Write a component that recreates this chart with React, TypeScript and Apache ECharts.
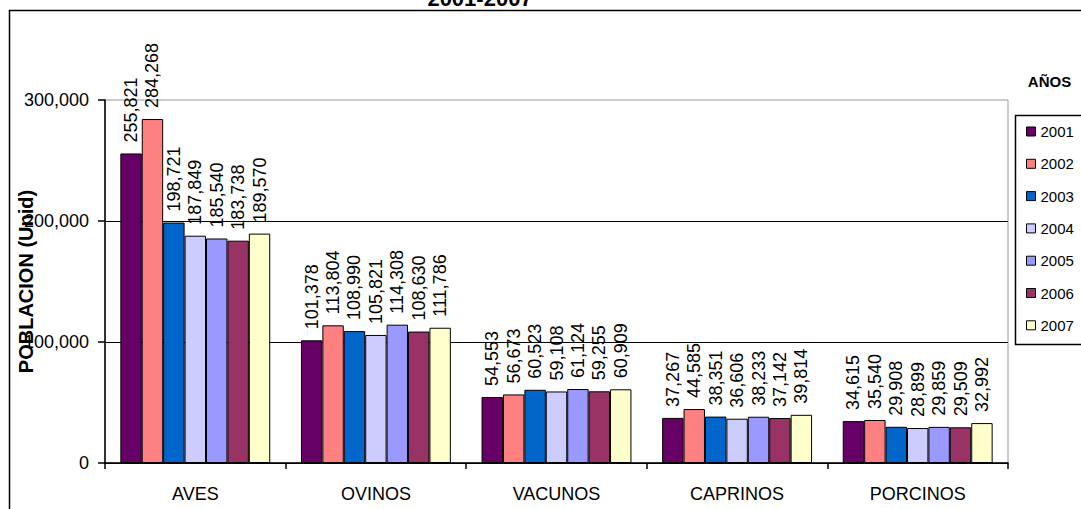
import React, { useEffect, useRef } from "react";
import * as echarts from "echarts";

const categories = ["AVES", "OVINOS", "VACUNOS", "CAPRINOS", "PORCINOS"];
const years = ["2001", "2002", "2003", "2004", "2005", "2006", "2007"];
const colors = ["#660066", "#FF8080", "#0066CC", "#CCCCFF", "#9999FF", "#993366", "#FFFFCC"];

const v2001 = [255821, 101378, 54553, 37267, 34615];
const v2002 = [284268, 113804, 56673, 44585, 35540];
const v2003 = [198721, 108990, 60523, 38351, 29908];
const v2004 = [187849, 105821, 59108, 36606, 28899];
const v2005 = [185540, 114308, 61124, 38233, 29859];
const v2006 = [183738, 108630, 59255, 37142, 29509];
const v2007 = [189570, 111786, 60909, 39814, 32992];
const seriesValues = [v2001, v2002, v2003, v2004, v2005, v2006, v2007];

const yMin = 0;
const yMax = 300000;
const yInterval = 100000;

const FONT = "Liberation Sans, Arial, sans-serif";
const fmt = (n: number) => n.toLocaleString("en-US");

export default function App() {
  const ref = useRef<HTMLDivElement>(null);
  useEffect(() => {
    if (!ref.current) return;
    const chart = echarts.init(ref.current, undefined, { renderer: "svg" });
    chart.setOption({
      animation: false,
      backgroundColor: "#fff",
      color: colors,
      textStyle: { fontFamily: FONT },
      grid: {
        left: 105,
        right: 73,
        top: 100,
        bottom: 46,
        containLabel: false,
        outerBoundsMode: "none",
        show: true,
        borderColor: "#999",
        borderWidth: 1,
        backgroundColor: "transparent",
      },
      legend: {
        orient: "vertical",
        left: 1026,
        top: 124,
        padding: 0,
        itemWidth: 9,
        itemHeight: 9,
        itemGap: 17.3,
        icon: "rect",
        data: years,
        itemStyle: { borderColor: "#000", borderWidth: 1 },
        textStyle: { fontSize: 15, color: "#000", fontFamily: FONT, lineHeight: 15, padding: [0, 0, 0, 0] },
      },
      xAxis: {
        type: "category",
        data: categories,
        boundaryGap: true,
        axisLine: { show: true, lineStyle: { color: "#000", width: 1.5 } },
        axisTick: { show: true, length: 6, lineStyle: { color: "#000", width: 1.5 } },
        axisLabel: { fontSize: 18, color: "#000", margin: 22, fontFamily: FONT },
      },
      yAxis: {
        type: "value",
        min: yMin,
        max: yMax,
        interval: yInterval,
        name: "POBLACION (Unid)",
        nameLocation: "middle",
        nameGap: 69,
        nameMoveOverlap: false,
        nameTextStyle: { fontSize: 20, fontWeight: "bold", color: "#000", fontFamily: FONT },
        axisLine: { show: true, lineStyle: { color: "#000", width: 1.5 } },
        axisTick: { show: true, length: 7, lineStyle: { color: "#000", width: 1.5 } },
        axisLabel: { fontSize: 18, color: "#000", margin: 16, fontFamily: FONT, formatter: (v: number) => fmt(v) },
        splitLine: { show: true, showMaxLine: false, lineStyle: { color: "#000", width: 1.2 } },
      },
      graphic: [
        {
          type: "rect",
          shape: { x: 9.5, y: 10.5, width: 1200, height: 600 },
          style: { fill: "none", stroke: "#000", lineWidth: 1.5 },
          z: 100,
          silent: true,
        },
        {
          type: "rect",
          shape: { x: 1015.5, y: 115.5, width: 200, height: 229 },
          style: { fill: "none", stroke: "#000", lineWidth: 1.5 },
          z: 100,
          silent: true,
        },
        {
          type: "text",
          x: 480,
          y: -2,
          style: {
            text: "2001-2007",
            fontSize: 22,
            fontWeight: "bold",
            fontFamily: FONT,
            fill: "#000",
            align: "center",
            verticalAlign: "middle",
          },
        },
        {
          type: "text",
          x: 1049.5,
          y: 81,
          style: {
            text: "AÑOS",
            fontSize: 15,
            fontWeight: "bold",
            fontFamily: FONT,
            fill: "#000",
            align: "center",
            verticalAlign: "middle",
          },
        },
      ],
      series: years.map((y, i) => ({
        name: y,
        type: "bar",
        data: seriesValues[i],
        barGap: "0%",
        barCategoryGap: "17%",
        itemStyle: { color: colors[i], borderColor: "#000", borderWidth: 1 },
        label: {
          show: true,
          position: "top",
          rotate: 90,
          align: "left",
          verticalAlign: "middle",
          distance: 11,
          fontSize: 18,
          color: "#000",
          fontFamily: FONT,
          formatter: (p: any) => fmt(p.value),
        },
      })),
    });
    return () => chart.dispose();
  }, []);
  return (
    <div
      ref={ref}
      style={{ position: "fixed", left: 0, top: 0, width: 1081, height: 509 }}
    />
  );
}
